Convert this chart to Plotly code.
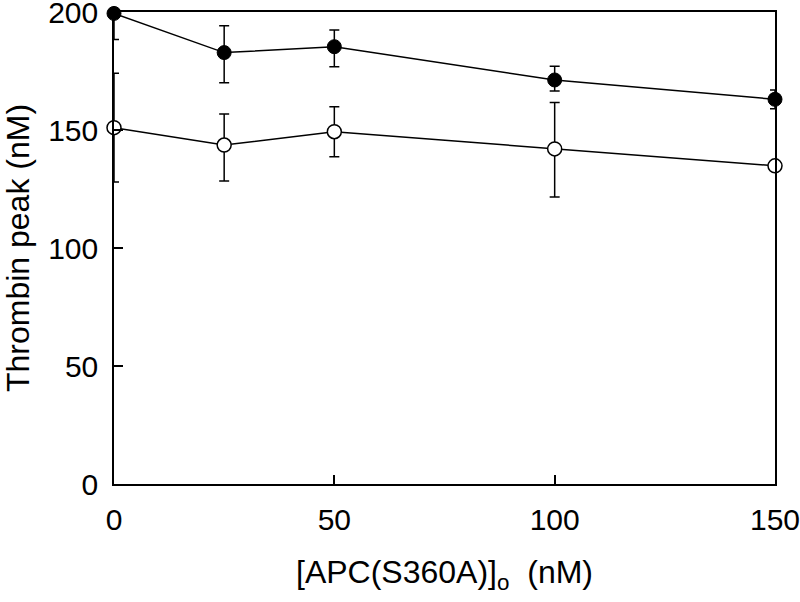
import plotly.graph_objects as go

apc_nM = [0, 25, 50, 100, 150]

filled_peak = [199.4, 182.8, 185.3, 171.2, 163.0]
filled_err_plus = [0.6, 11.4, 7.1, 5.8, 4.0]
filled_err_minus = [11.0, 12.8, 8.5, 4.7, 4.0]

open_peak = [151.0, 143.6, 149.3, 142.0, 134.8]
open_err_plus = [23.0, 13.2, 10.6, 19.6, 0.0]
open_err_minus = [23.0, 15.2, 10.6, 20.4, 0.0]

x_ticks = [0, 50, 100, 150]
y_ticks = [0, 50, 100, 150, 200]

font_family = "Liberation Sans, Arial, sans-serif"

fig = go.Figure()

fig.add_trace(go.Scatter(
    x=apc_nM, y=open_peak, mode="lines+markers",
    line=dict(color="black", width=1.5),
    marker=dict(symbol="circle", size=14, color="white",
                line=dict(color="black", width=1.5)),
    error_y=dict(type="data", symmetric=False, array=open_err_plus,
                 arrayminus=open_err_minus, color="black", thickness=1.5, width=5),
    cliponaxis=False, showlegend=False,
))

fig.add_trace(go.Scatter(
    x=apc_nM, y=filled_peak, mode="lines+markers",
    line=dict(color="black", width=1.5),
    marker=dict(symbol="circle", size=14, color="black",
                line=dict(color="black", width=1)),
    error_y=dict(type="data", symmetric=False, array=filled_err_plus,
                 arrayminus=filled_err_minus, color="black", thickness=1.5, width=5),
    cliponaxis=False, showlegend=False,
))

fig.update_layout(
    width=800, height=602,
    margin=dict(l=114, r=25, t=12, b=118),
    plot_bgcolor="white", paper_bgcolor="white",
    font=dict(family=font_family, color="black", size=30),
    xaxis=dict(
        range=[0, 150], tickvals=x_ticks, ticks="inside", ticklen=9,
        tickwidth=1.5, tickcolor="black", showline=True, linecolor="black",
        linewidth=1.5, mirror=True, showgrid=False, zeroline=False,
        ticklabelstandoff=8, automargin=False, ticklabeloverflow="allow",
        tickfont=dict(size=30),
        title=dict(text="[APC(S360A)]<sub>o</sub>  (nM)", font=dict(size=32),
                   standoff=26),
    ),
    yaxis=dict(
        range=[0, 200], tickvals=y_ticks, ticks="inside", ticklen=9,
        tickwidth=1.5, tickcolor="black", showline=True, linecolor="black",
        linewidth=1.5, mirror=True, showgrid=False, zeroline=False,
        ticklabelstandoff=8, automargin=False, ticklabeloverflow="allow",
        tickfont=dict(size=30),
        title=dict(text="Thrombin peak (nM)", font=dict(size=32), standoff=24),
    ),
)

fig.write_html(
    "out.html",
    config={"displayModeBar": False},
    post_script="document.body.style.margin='0';document.body.style.overflow='hidden';",
)
